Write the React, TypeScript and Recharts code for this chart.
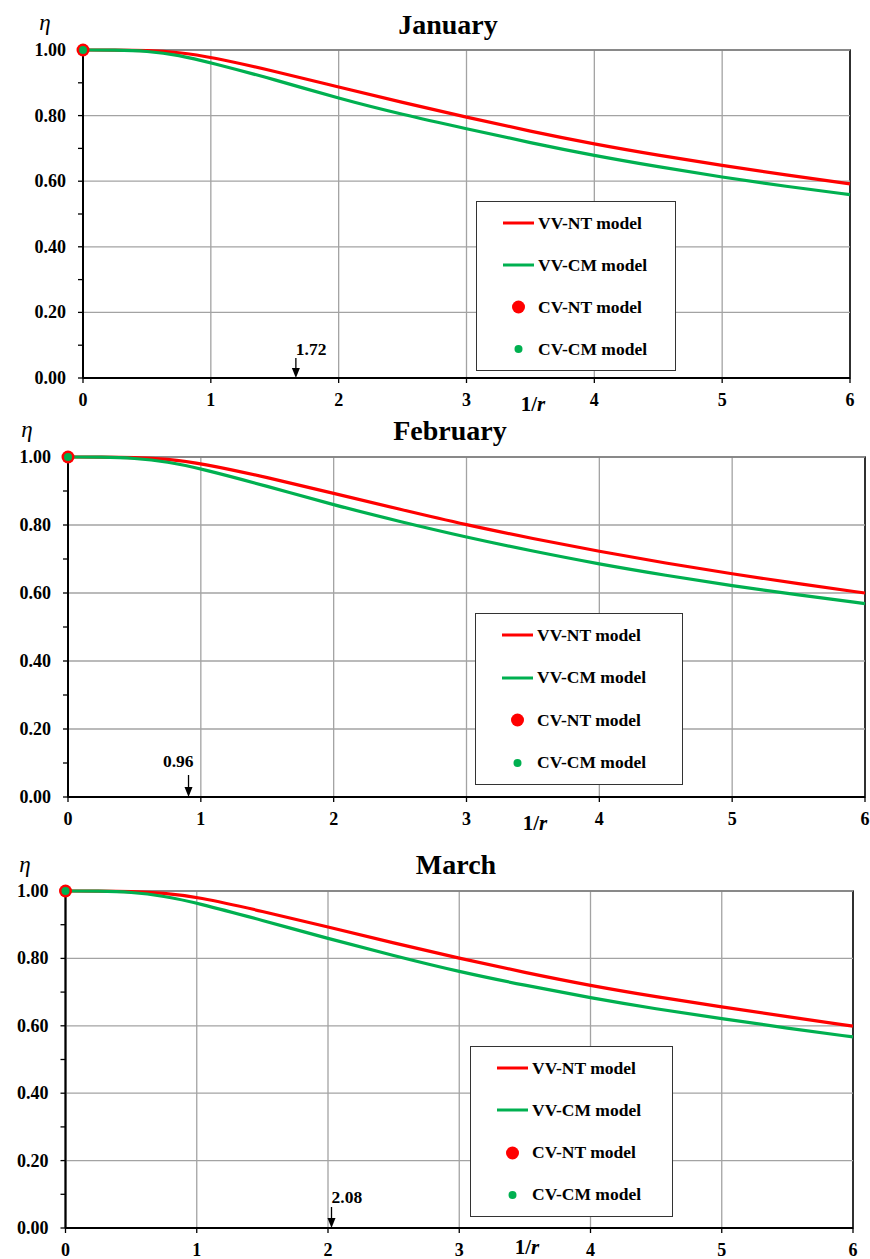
import React from 'react';
import {
  ComposedChart,
  Line,
  XAxis,
  YAxis,
  CartesianGrid,
  ReferenceLine,
  ReferenceArea,
  ReferenceDot,
  Legend,
} from 'recharts';

// values
const xValues = [0, 0.25, 0.5, 0.75, 1, 1.5, 2, 2.5, 3, 3.5, 4, 4.5, 5, 5.5, 6];

const janNT = [1, 1, 0.999, 0.993, 0.979, 0.935, 0.887, 0.84, 0.795, 0.752, 0.713, 0.679, 0.648, 0.619, 0.592];
const janCM = [1, 1, 0.997, 0.985, 0.961, 0.91, 0.852, 0.803, 0.76, 0.717, 0.678, 0.644, 0.612, 0.584, 0.559];

const febNT = [1, 1, 0.999, 0.994, 0.982, 0.94, 0.893, 0.846, 0.8, 0.76, 0.722, 0.688, 0.656, 0.627, 0.6];
const febCM = [1, 1, 0.997, 0.986, 0.966, 0.914, 0.859, 0.81, 0.764, 0.723, 0.685, 0.652, 0.621, 0.594, 0.569];

const marNT = [1, 1, 0.999, 0.994, 0.983, 0.94, 0.893, 0.846, 0.8, 0.758, 0.719, 0.686, 0.656, 0.627, 0.599];
const marCM = [1, 1, 0.997, 0.985, 0.965, 0.913, 0.859, 0.808, 0.76, 0.72, 0.683, 0.65, 0.621, 0.593, 0.567];

const cvNT = [{ x: 0, y: 1 }];
const cvCM = [{ x: 0, y: 1 }];

const months = ['January', 'February', 'March'];
const markers = [1.72, 0.96, 2.08];
const seriesNames = ['VV-NT model', 'VV-CM model', 'CV-NT model', 'CV-CM model'];

const xTicks = [0, 1, 2, 3, 4, 5, 6];
const yTicks = [0, 0.1, 0.2, 0.3, 0.4, 0.5, 0.6, 0.7, 0.8, 0.9, 1.0];
const yGrid = [0.2, 0.4, 0.6, 0.8, 1.0];

const SERIF = "'Liberation Serif', 'Times New Roman', serif";
const RED = '#ff0000';
const GREEN = '#00b050';
const GRID = '#a3a3a3';

const seriesStyle = [
  { color: RED, kind: 'line', r: 0 },
  { color: GREEN, kind: 'line', r: 0 },
  { color: RED, kind: 'dot', r: 6.5 },
  { color: GREEN, kind: 'dot', r: 4 },
];

const layouts = [
  {
    top: 0, height: 415, xAxisHeight: 30,
    margin: { top: 50, right: 20, bottom: 7, left: 23 },
    legend: { left: 476, top: 201, width: 200, height: 170 },
    title: { x: 448, y: 25 }, eta: { x: 45, y: 23 }, rLabel: { x: 533, y: 404 },
    note: { anchor: 'start', dx: 0, dy: -23, arrowTop: 20 },
  },
  {
    top: 415, height: 420, xAxisHeight: 30,
    margin: { top: 42, right: 5, bottom: 8, left: 8 },
    legend: { left: 475, top: 198, width: 208, height: 172 },
    title: { x: 450, y: 431 }, eta: { x: 27, y: 430 }, rLabel: { x: 535, y: 823 },
    note: { anchor: 'end', dx: 5, dy: -30, arrowTop: 22 },
  },
  {
    top: 835, height: 424, xAxisHeight: 28,
    margin: { top: 56, right: 17, bottom: 3, left: 5.5 },
    legend: { left: 470, top: 211, width: 203, height: 171 },
    title: { x: 456, y: 865 }, eta: { x: 25, y: 865 }, rLabel: { x: 527, y: 1247 },
    note: { anchor: 'start', dx: 0, dy: -25, arrowTop: 21 },
  },
];

const toPoints = (ys: number[]) => xValues.map((x, i) => ({ x, y: ys[i] }));

const panelSeries = [
  [toPoints(janNT), toPoints(janCM)],
  [toPoints(febNT), toPoints(febCM)],
  [toPoints(marNT), toPoints(marCM)],
];

const YTick = (props: any) => {
  const { x, y, payload } = props;
  const v = payload.value as number;
  if (Math.round(v * 10) % 2 !== 0) return <g />;
  return (
    <text x={x} y={y} dy={6} textAnchor="end" fill="#000" fontFamily={SERIF} fontWeight="bold" fontSize={18}>
      {v.toFixed(2)}
    </text>
  );
};

const makeArrow = (label: string, note: any) => (props: any) => {
  const { cx, cy } = props;
  const ax = cx - 7;
  return (
    <g>
      <line x1={ax} y1={cy - note.arrowTop} x2={ax} y2={cy - 8} stroke="#000" strokeWidth={1.3} />
      <polygon points={`${ax - 4},${cy - 10} ${ax + 4},${cy - 10} ${ax},${cy}`} fill="#000" />
      <text x={ax + note.dx} y={cy + note.dy} textAnchor={note.anchor} fill="#000" fontFamily={SERIF} fontWeight="bold" fontSize={17.5}>
        {label}
      </text>
    </g>
  );
};

const LegendBox = ({ width, height }: { width: number; height: number }) => (
  <div
    style={{
      width, height, boxSizing: 'border-box', border: '1.5px solid #333', background: '#fff',
      display: 'flex', flexDirection: 'column', justifyContent: 'space-around',
    }}
  >
    {seriesNames.map((name, i) => {
      const s = seriesStyle[i];
      return (
        <div key={name} style={{ display: 'flex', alignItems: 'center', height: 20 }}>
          <div style={{ width: 26 }} />
          <svg width={31} height={16}>
            {s.kind === 'line' ? (
              <line x1={0} y1={8} x2={31} y2={8} stroke={s.color} strokeWidth={3} />
            ) : (
              <circle cx={15.5} cy={8} r={s.r} fill={s.color} />
            )}
          </svg>
          <span style={{ marginLeft: 4, fontFamily: SERIF, fontWeight: 'bold', fontSize: 17.5, color: '#000' }}>{name}</span>
        </div>
      );
    })}
  </div>
);

const Panel = ({ index }: { index: number }) => {
  const lay = layouts[index];
  const [nt, cm] = panelSeries[index];
  return (
    <div style={{ position: 'absolute', left: 0, top: lay.top, width: 870, height: lay.height }}>
      <ComposedChart width={870} height={lay.height} margin={lay.margin}>
        <CartesianGrid horizontal={false} stroke={GRID} strokeWidth={1.3} />
        {yGrid.map((v) => (
          <ReferenceLine key={v} y={v} stroke={GRID} strokeWidth={1.3} />
        ))}
        <ReferenceArea x1={0} x2={6} y1={0} y2={1} fill="none" stroke="#000" strokeWidth={1.5} />
        <XAxis
          type="number"
          dataKey="x"
          domain={[0, 6]}
          ticks={xTicks}
          interval={0}
          height={lay.xAxisHeight}
          axisLine={{ stroke: '#000', strokeWidth: 2 }}
          tickLine={{ stroke: '#000', strokeWidth: 1.3 }}
          tickSize={5}
          tickMargin={10}
          tick={{ fill: '#000', fontSize: 18, fontWeight: 'bold', fontFamily: SERIF }}
        />
        <YAxis
          type="number"
          dataKey="y"
          domain={[0, 1]}
          ticks={yTicks}
          interval={0}
          width={60}
          axisLine={{ stroke: '#000', strokeWidth: 2 }}
          tickLine={{ stroke: '#000', strokeWidth: 1.3 }}
          tickSize={5}
          tickMargin={12}
          tick={<YTick />}
        />
        <Line data={nt} dataKey="y" name={seriesNames[0]} type="basis" stroke={RED} strokeWidth={3.2} dot={false} isAnimationActive={false} />
        <Line data={cm} dataKey="y" name={seriesNames[1]} type="basis" stroke={GREEN} strokeWidth={3.2} dot={false} isAnimationActive={false} />
        <Line data={cvNT} dataKey="y" name={seriesNames[2]} stroke="none" dot={{ r: 6.5, fill: RED, stroke: 'none' }} isAnimationActive={false} />
        <Line data={cvCM} dataKey="y" name={seriesNames[3]} stroke="none" dot={{ r: 4, fill: GREEN, stroke: 'none' }} isAnimationActive={false} />
        <ReferenceDot x={markers[index]} y={0} r={0} ifOverflow="visible" shape={makeArrow(markers[index].toFixed(2), lay.note)} />
        <Legend
          layout="vertical"
          align="center"
          verticalAlign="middle"
          wrapperStyle={{ left: lay.legend.left, top: lay.legend.top, width: lay.legend.width, height: lay.legend.height }}
          content={() => <LegendBox width={lay.legend.width} height={lay.legend.height} />}
        />
      </ComposedChart>
    </div>
  );
};

const App = () => {
  return (
    <div style={{ position: 'absolute', left: 0, top: 0, width: 870, height: 1259, background: '#fff', overflow: 'hidden' }}>
      {layouts.map((lay, i) => (
        <Panel key={months[i]} index={i} />
      ))}
      {layouts.map((lay, i) => (
        <React.Fragment key={'t' + i}>
          <div
            style={{
              position: 'absolute', left: lay.title.x - 120, top: lay.title.y - 16, width: 240, lineHeight: '32px',
              textAlign: 'center', fontFamily: SERIF, fontWeight: 'bold', fontSize: 28, color: '#000',
            }}
          >
            {months[i]}
          </div>
          <div
            style={{
              position: 'absolute', left: lay.eta.x - 10, top: lay.eta.y - 14, width: 20, lineHeight: '28px',
              textAlign: 'center', fontFamily: SERIF, fontStyle: 'italic', fontSize: 23, color: '#000',
            }}
          >
            η
          </div>
          <div
            style={{
              position: 'absolute', left: lay.rLabel.x - 20, top: lay.rLabel.y - 10, width: 40, lineHeight: '20px',
              textAlign: 'center', fontFamily: SERIF, fontWeight: 'bold', fontSize: 21, color: '#000',
            }}
          >
            1/<i>r</i>
          </div>
        </React.Fragment>
      ))}
    </div>
  );
};

export default App;
